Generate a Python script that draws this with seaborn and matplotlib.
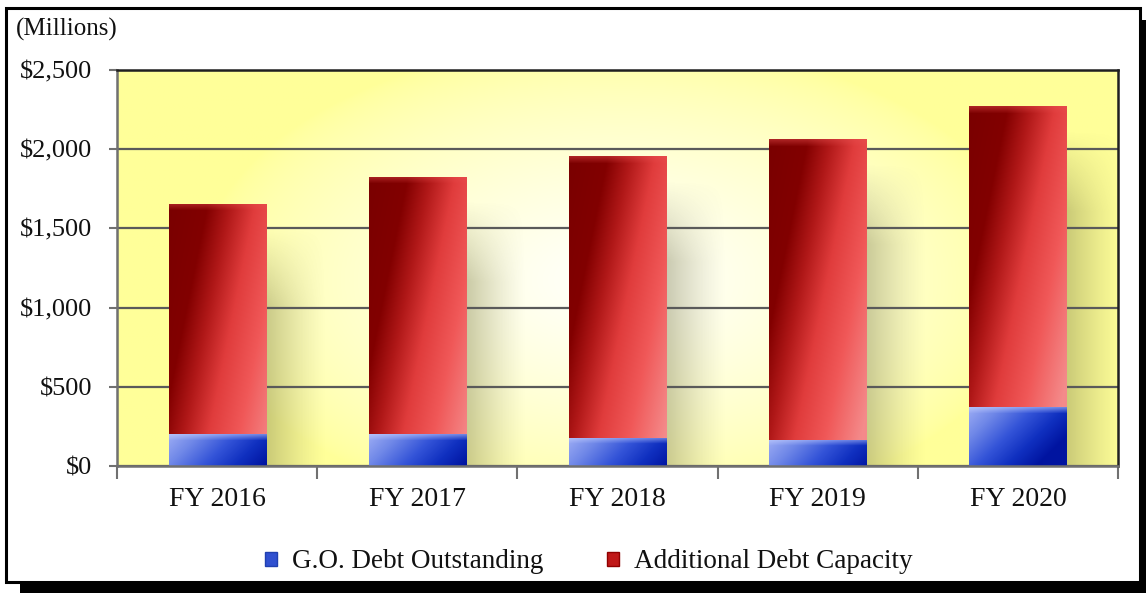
import numpy as np
import pandas as pd
import matplotlib.pyplot as plt
import seaborn as sns
from matplotlib.patches import Rectangle, Patch

years = ["FY 2016", "FY 2017", "FY 2018", "FY 2019", "FY 2020"]
go_debt = [202, 202, 178, 165, 372]
debt_limit = [1655, 1825, 1955, 2063, 2272]
additional = [t - g for t, g in zip(debt_limit, go_debt)]
y_ticks = [0, 500, 1000, 1500, 2000, 2500]
y_labels = ["$0", "$500", "$1,000", "$1,500", "$2,000", "$2,500"]

W, H = 1146, 593
AX_L, AX_R, AX_T, AX_B = 117, 1118, 70, 466
BAR_W = 0.485
RED = "#c01818"
BLUE = "#3050d0"
TXT = "#111111"

sns.set_theme(style="white")
plt.rcParams["font.family"] = ["Liberation Serif", "DejaVu Serif"]

fig = plt.figure(figsize=(W / 100, H / 100), dpi=100)
fig.patch.set_facecolor("white")

# card + drop shadow
fig.patches.append(Rectangle((20 / W, 0), (W - 20) / W, (H - 20) / H, transform=fig.transFigure,
                             facecolor="black", edgecolor="none", zorder=-3))
fig.patches.append(Rectangle((6 / W, 1 - 582 / H), (1140 - 6) / W, (582 - 8) / H, transform=fig.transFigure,
                             facecolor="white", edgecolor="black", linewidth=2.2, zorder=-2))

ax = fig.add_axes([AX_L / W, 1 - AX_B / H, (AX_R - AX_L) / W, (AX_B - AX_T) / H])
ax.set_facecolor("none")

df = pd.DataFrame({"year": years, "total": debt_limit, "go": go_debt, "add": additional})
sns.barplot(data=df, x="year", y="total", color=RED, width=BAR_W, saturation=1,
            linewidth=0, ax=ax, zorder=2)
sns.barplot(data=df, x="year", y="go", color=BLUE, width=BAR_W, saturation=1,
            linewidth=0, ax=ax, zorder=2)

ax_w_px = AX_R - AX_L
ax_h_px = AX_B - AX_T
px_x = ax_w_px / 5.0
px_y = ax_h_px / 2500.0

# background: yellow with a white glow in the middle
gx, gy = np.meshgrid(np.linspace(0, ax_w_px, 400), np.linspace(0, ax_h_px, 200))
r = np.sqrt(((gx - 500) / 420) ** 2 + ((gy - 210) / 240) ** 2)
wgt = np.clip(1 - r, 0, 1) ** 0.7
bg = np.zeros(gx.shape + (3,))
bg[..., 0] = 1.0
bg[..., 1] = 1.0
bg[..., 2] = 0.6 + 0.4 * wgt
ax.imshow(bg, extent=[0, 1, 0, 1], transform=ax.transAxes, aspect="auto", zorder=0)


def ramp(s, stops, cols):
    out = np.zeros(s.shape + (3,))
    for c in range(3):
        out[..., c] = np.interp(s, stops, [col[c] for col in cols])
    return out


def hexrgb(h):
    h = h.lstrip("#")
    return tuple(int(h[i:i + 2], 16) / 255 for i in (0, 2, 4))


red_stops = [0, 38, 60, 85, 115, 150]
red_cols = [hexrgb(c) for c in ["#7a0000", "#820000", "#b01818", "#e03c3c", "#f05858", "#f48a8a"]]
blue_stops = [0, 30, 65, 95, 125]
blue_cols = [hexrgb(c) for c in ["#9cacf4", "#7088e8", "#3454d8", "#1030c0", "#0014a0"]]

n_red = len(years)
for i, p in enumerate(ax.patches):
    x0, y0 = p.get_x(), p.get_y()
    w, h = p.get_width(), p.get_height()
    wp, hp = int(round(w * px_x)), max(int(round(h * px_y)), 2)
    xx, dd = np.meshgrid(np.arange(wp), np.arange(hp))
    if i < n_red:
        img = ramp(xx + 0.2 * dd, red_stops, red_cols)
        bevel = np.clip(1 - dd / 7.0, 0, 1)[..., None]
        img = img * (1 - 0.45 * bevel) + np.array(hexrgb("#e85050")) * 0.45 * bevel
        # soft shadow to the right
        sw = 60
        sx, sd = np.meshgrid(np.arange(sw), np.arange(hp))
        ax_ = np.clip(1 - sx / sw, 0, 1) ** 1.3
        ay_ = np.clip((sd - 25) / 80.0, 0, 1)
        sh = np.zeros((hp, sw, 4))
        sh[..., 0] = 0.45
        sh[..., 1] = 0.45
        sh[..., 2] = 0.25
        sh[..., 3] = 0.38 * ax_ * ay_
        ax.imshow(sh, extent=[x0 + w, x0 + w + sw / px_x, y0, y0 + h], aspect="auto", zorder=0.3)
    else:
        img = ramp(xx + 1.0 * dd, blue_stops, blue_cols)
        bevel = np.clip(1 - dd / 6.0, 0, 1)[..., None]
        img = img * (1 - 0.5 * bevel) + np.array(hexrgb("#c8d4ff")) * 0.5 * bevel
    im = ax.imshow(img, extent=[x0, x0 + w, y0, y0 + h], aspect="auto", zorder=2.5)
    im.set_clip_path(p)

ax.set_xlim(-0.5, 4.5)
ax.set_ylim(0, 2500)
ax.set_xlabel("")
ax.set_ylabel("")

ax.set_yticks(y_ticks)
ax.set_yticklabels(y_labels, fontsize=19, color=TXT)
ax.yaxis.grid(True, color="#5a5a5a", linewidth=1.6, zorder=0.5)
ax.set_axisbelow(True)
ax.tick_params(axis="y", which="major", left=True, length=6, width=1.5, color="#707070", pad=12)

ax.set_xticks(range(len(years)))
ax.set_xticklabels(years, fontsize=20, color=TXT)
ax.set_xticks(np.arange(-0.5, 5, 1), minor=True)
ax.tick_params(axis="x", which="major", length=0, pad=15)
ax.tick_params(axis="x", which="minor", bottom=True, length=9, width=1.5, color="#707070")

for side, col in [("left", "#707070"), ("bottom", "#707070"), ("top", "#202020"), ("right", "#202020")]:
    ax.spines[side].set_visible(True)
    ax.spines[side].set_color(col)
    ax.spines[side].set_linewidth(1.8)
    ax.spines[side].set_zorder(4)

fig.text(16 / W, 1 - 29 / H, "(Millions)", fontsize=18, va="center", ha="left", color=TXT)

handles = [Patch(facecolor=BLUE, edgecolor="#2040b0", label="G.O. Debt Outstanding"),
           Patch(facecolor=RED, edgecolor="#900000", label="Additional Debt Capacity")]
fig.legend(handles=handles, loc="center", bbox_to_anchor=(589 / W, 1 - 562 / H), ncol=2,
           frameon=False, fontsize=19.5, handlelength=0.45, handleheight=0.45,
           handletextpad=0.55, columnspacing=2.35, labelcolor=TXT)

fig.savefig("out.png", dpi=100)
